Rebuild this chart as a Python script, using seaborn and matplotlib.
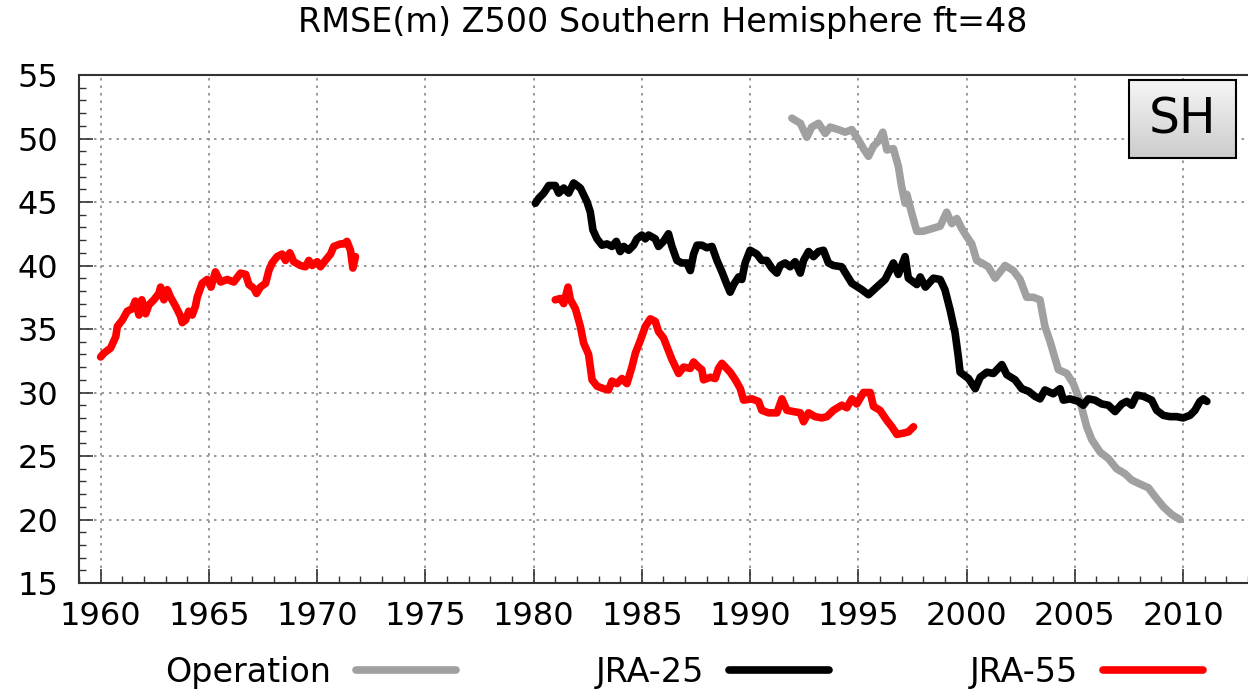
import numpy as np
import pandas as pd
import seaborn as sns
import matplotlib
matplotlib.use("Agg")
import matplotlib.pyplot as plt
from matplotlib.patches import Rectangle, Shadow
from matplotlib.ticker import MultipleLocator

# Operation (grey)
op_year = [1991.93, 1992.32, 1992.62, 1992.85, 1993.16, 1993.47, 1993.7, 1994.08, 1994.39, 1994.7,
           1995.0, 1995.24, 1995.47, 1995.7, 1995.93, 1996.13, 1996.32, 1996.62, 1996.85, 1997.0,
           1997.16, 1997.24, 1997.47, 1997.7, 1998.0, 1998.39, 1998.78, 1999.08, 1999.32, 1999.55,
           1999.78, 2000.0, 2000.24, 2000.47, 2000.7, 2001.0, 2001.32, 2001.78, 2002.16, 2002.47,
           2002.78, 2003.08, 2003.39, 2003.62, 2003.86, 2004.24, 2004.63, 2004.93, 2005.24, 2005.55,
           2005.78, 2006.17, 2006.55, 2006.93, 2007.32, 2007.63, 2008.0, 2008.4, 2008.71, 2009.09,
           2009.47, 2009.86]
op_rmse = [51.6, 51.2, 50.1, 50.9, 51.2, 50.4, 50.9, 50.7, 50.5, 50.7,
           49.9, 49.2, 48.6, 49.4, 49.8, 50.5, 49.1, 49.2, 47.8, 46.2,
           44.9, 45.6, 44.1, 42.7, 42.7, 42.9, 43.1, 44.2, 43.3, 43.7,
           42.9, 42.3, 41.7, 40.4, 40.2, 39.9, 39.0, 40.0, 39.6, 38.9,
           37.5, 37.5, 37.3, 35.2, 34.0, 31.8, 31.5, 30.7, 29.3, 27.3,
           26.3, 25.3, 24.8, 24.0, 23.6, 23.1, 22.8, 22.5, 21.8, 21.0,
           20.4, 20.0]

# JRA-25 (black)
j25_year = [1980.08, 1980.24, 1980.47, 1980.7, 1981.0, 1981.16, 1981.39, 1981.62, 1981.85, 1982.16,
            1982.47, 1982.62, 1982.74, 1982.93, 1983.16, 1983.39, 1983.62, 1983.82, 1984.0, 1984.16,
            1984.39, 1984.62, 1984.77, 1985.0, 1985.16, 1985.31, 1985.62, 1985.77, 1986.0, 1986.23,
            1986.39, 1986.62, 1986.85, 1987.08, 1987.24, 1987.39, 1987.55, 1987.77, 1988.0, 1988.24,
            1988.47, 1988.7, 1988.93, 1989.08, 1989.24, 1989.47, 1989.62, 1989.77, 1990.0, 1990.31,
            1990.54, 1990.77, 1991.0, 1991.24, 1991.39, 1991.62, 1991.85, 1992.08, 1992.32, 1992.47,
            1992.7, 1992.93, 1993.16, 1993.39, 1993.62, 1993.85, 1994.23, 1994.7, 1995.16, 1995.47,
            1995.85, 1996.24, 1996.62, 1996.85, 1997.16, 1997.31, 1997.7, 1997.86, 1998.1, 1998.47,
            1998.78, 1999.0, 1999.24, 1999.47, 1999.62, 1999.7, 2000.09, 2000.4, 2000.63, 2000.94,
            2001.24, 2001.63, 2001.86, 2002.24, 2002.55, 2002.86, 2003.16, 2003.39, 2003.62, 2004.0,
            2004.32, 2004.47, 2004.78, 2005.16, 2005.39, 2005.62, 2005.93, 2006.24, 2006.55, 2006.86,
            2007.17, 2007.4, 2007.63, 2007.86, 2008.17, 2008.55, 2008.78, 2009.09, 2009.4, 2009.7,
            2010.0, 2010.32, 2010.55, 2010.78, 2010.94, 2011.1]
j25_rmse = [44.9, 45.3, 45.7, 46.3, 46.3, 45.7, 46.1, 45.7, 46.5, 46.1,
            45.0, 44.2, 42.8, 42.1, 41.6, 41.7, 41.5, 41.9, 41.1, 41.5,
            41.2, 41.6, 42.1, 42.4, 42.1, 42.4, 42.1, 41.5, 41.9, 42.5,
            41.5, 40.4, 40.2, 40.2, 39.6, 40.9, 41.6, 41.6, 41.4, 41.5,
            40.4, 39.5, 38.5, 37.9, 38.5, 39.1, 38.9, 40.2, 41.2, 40.9,
            40.4, 40.4, 39.8, 39.4, 40.0, 40.2, 39.9, 40.3, 39.4, 40.4,
            41.1, 40.7, 41.1, 41.2, 40.2, 40.0, 39.9, 38.6, 38.1, 37.7,
            38.3, 38.9, 40.2, 39.3, 40.7, 39.0, 38.5, 39.1, 38.3, 39.0,
            38.9, 38.1, 36.5, 34.7, 32.8, 31.6, 31.1, 30.3, 31.2, 31.6,
            31.5, 32.2, 31.4, 31.0, 30.3, 30.1, 29.7, 29.5, 30.2, 29.9,
            30.3, 29.4, 29.5, 29.3, 29.0, 29.5, 29.4, 29.1, 29.0, 28.5,
            29.1, 29.3, 29.0, 29.8, 29.7, 29.4, 28.6, 28.2, 28.1, 28.1,
            28.0, 28.2, 28.6, 29.3, 29.5, 29.3]

# JRA-55 (red), first stream 1960-1972
j55a_year = [1960.0, 1960.15, 1960.46, 1960.7, 1960.77, 1961.0, 1961.23, 1961.46, 1961.6, 1961.77,
             1961.9, 1962.08, 1962.23, 1962.46, 1962.69, 1962.77, 1962.92, 1963.08, 1963.23, 1963.46,
             1963.69, 1963.77, 1963.92, 1964.07, 1964.23, 1964.38, 1964.46, 1964.69, 1964.92, 1965.1,
             1965.3, 1965.54, 1965.85, 1966.15, 1966.46, 1966.7, 1966.85, 1967.08, 1967.2, 1967.38,
             1967.62, 1967.77, 1967.92, 1968.15, 1968.38, 1968.54, 1968.74, 1968.92, 1969.23, 1969.46,
             1969.62, 1969.77, 1970.0, 1970.15, 1970.38, 1970.62, 1970.77, 1971.08, 1971.23, 1971.38,
             1971.54, 1971.65, 1971.77]
j55a_rmse = [32.8, 33.1, 33.5, 34.4, 35.2, 35.7, 36.4, 36.6, 37.2, 36.1,
             37.3, 36.2, 36.9, 37.3, 37.8, 38.3, 37.3, 38.1, 37.5, 36.8,
             36.0, 35.5, 35.7, 36.4, 36.1, 36.8, 37.5, 38.6, 38.9, 38.3,
             39.5, 38.7, 38.9, 38.7, 39.4, 39.3, 38.5, 38.2, 37.8, 38.3,
             38.6, 39.6, 40.2, 40.7, 40.9, 40.4, 41.0, 40.3, 40.0, 39.9,
             40.4, 40.0, 40.3, 39.9, 40.4, 40.9, 41.5, 41.7, 41.7, 41.9,
             41.2, 39.8, 40.7]

# JRA-55 (red), second stream 1981-1997
j55b_year = [1981.0, 1981.24, 1981.39, 1981.59, 1981.7, 1981.93, 1982.16, 1982.31, 1982.54, 1982.7,
             1982.93, 1983.24, 1983.46, 1983.62, 1983.85, 1984.08, 1984.31, 1984.54, 1984.7, 1984.93,
             1985.16, 1985.39, 1985.62, 1985.77, 1986.0, 1986.16, 1986.39, 1986.7, 1986.93, 1987.24,
             1987.39, 1987.62, 1987.77, 1987.85, 1988.16, 1988.39, 1988.54, 1988.7, 1989.08, 1989.32,
             1989.55, 1989.7, 1990.08, 1990.39, 1990.54, 1990.85, 1991.24, 1991.47, 1991.7, 1992.0,
             1992.32, 1992.47, 1992.7, 1993.0, 1993.31, 1993.55, 1993.85, 1994.24, 1994.47, 1994.7,
             1994.93, 1995.24, 1995.55, 1995.7, 1996.0, 1996.32, 1996.55, 1996.78, 1997.08, 1997.31,
             1997.55]
j55b_rmse = [37.3, 37.4, 37.0, 38.3, 37.3, 36.6, 35.2, 33.9, 33.0, 31.0,
             30.5, 30.3, 30.2, 30.9, 30.7, 31.1, 30.7, 32.0, 33.1, 34.1,
             35.2, 35.8, 35.6, 34.8, 34.3, 33.6, 32.6, 31.5, 32.0, 31.9,
             32.4, 32.0, 31.8, 31.0, 31.2, 31.1, 31.9, 32.3, 31.6, 31.0,
             30.3, 29.4, 29.5, 29.3, 28.6, 28.4, 28.4, 29.5, 28.6, 28.5,
             28.4, 27.7, 28.4, 28.1, 28.0, 28.1, 28.6, 29.0, 28.8, 29.5,
             29.1, 30.0, 30.0, 28.9, 28.6, 27.8, 27.3, 26.7, 26.8, 26.9,
             27.3]

sns.set_style("white")
plt.rcParams["font.family"] = ["DejaVu Sans"]
plt.rcParams["text.color"] = "black"
plt.rcParams["xtick.labelcolor"] = "black"
plt.rcParams["ytick.labelcolor"] = "black"

fig = plt.figure(figsize=(12.48, 6.92), dpi=100)
ax = fig.add_axes([0.0633, 0.1575, 0.9367, 0.7341])

lw = 5.5
sns.lineplot(x=op_year, y=op_rmse, color="#a0a0a0", lw=lw, ax=ax, label="Operation", estimator=None, sort=False)
sns.lineplot(x=j25_year, y=j25_rmse, color="black", lw=lw, ax=ax, label="JRA-25", estimator=None, sort=False)
sns.lineplot(x=j55a_year, y=j55a_rmse, color="#ff0000", lw=lw, ax=ax, label="JRA-55", estimator=None, sort=False)
sns.lineplot(x=j55b_year, y=j55b_rmse, color="#ff0000", lw=lw, ax=ax, estimator=None, sort=False)

ax.set_xlim(1959, 2013)
ax.set_ylim(15, 55)
ax.xaxis.set_major_locator(MultipleLocator(5))
ax.xaxis.set_minor_locator(MultipleLocator(1))
ax.yaxis.set_major_locator(MultipleLocator(5))
ax.yaxis.set_minor_locator(MultipleLocator(1))
ax.tick_params(which="major", direction="in", length=10, width=1.2, color="#333333",
               labelsize=23, labelcolor="black", bottom=True, left=True)
ax.tick_params(which="minor", direction="in", length=5, width=1, color="#333333",
               bottom=True, left=True)
ax.tick_params(axis="y", pad=15)
ax.tick_params(axis="x", pad=13)
ax.grid(True, which="major", linestyle=(0, (1.5, 3)), color="#888888", lw=1.2)
ax.set_xlabel("")
ax.set_ylabel("")
for side in ["left", "bottom", "top"]:
    ax.spines[side].set_color("#333333")
    ax.spines[side].set_linewidth(1.5)
ax.spines["right"].set_visible(False)

fig.text(0.531, 0.967, "RMSE(m) Z500 Southern Hemisphere ft=48", ha="center", va="center",
         fontsize=24, color="black")

# SH label box with grey gradient and a soft shadow
bx, by, bw, bh = 0.898, 0.8366, 0.0915, 0.1535
box = Rectangle((bx, by), bw, bh, transform=ax.transAxes, facecolor="none",
                edgecolor="black", lw=1.5, zorder=6)
sh = Shadow(Rectangle((bx, by), bw, bh, transform=ax.transAxes), 4, -4,
            facecolor="#999999", alpha=0.5, zorder=4)
ax.add_patch(sh)
grad = np.linspace(0.96, 0.80, 50).reshape(-1, 1)
ax.imshow(grad, cmap="gray", vmin=0, vmax=1, extent=(bx, bx + bw, by, by + bh),
          transform=ax.transAxes, aspect="auto", zorder=5)
ax.add_patch(box)
ax.text(bx + bw / 2, by + bh / 2, "SH", transform=ax.transAxes, ha="center", va="center",
        fontsize=35, color="black", zorder=7)
ax.set_xlim(1959, 2013)
ax.set_ylim(15, 55)
ax.set_aspect("auto")

ax.get_legend().remove()
handles, labels = ax.get_legend_handles_labels()
fig.legend(handles, labels, loc="center", bbox_to_anchor=(0.548, 0.028), ncol=3,
           markerfirst=False, frameon=False, fontsize=24, handlelength=3.0,
           handletextpad=0.75, columnspacing=4.2, labelcolor="black")

fig.savefig("out.png", dpi=100)
